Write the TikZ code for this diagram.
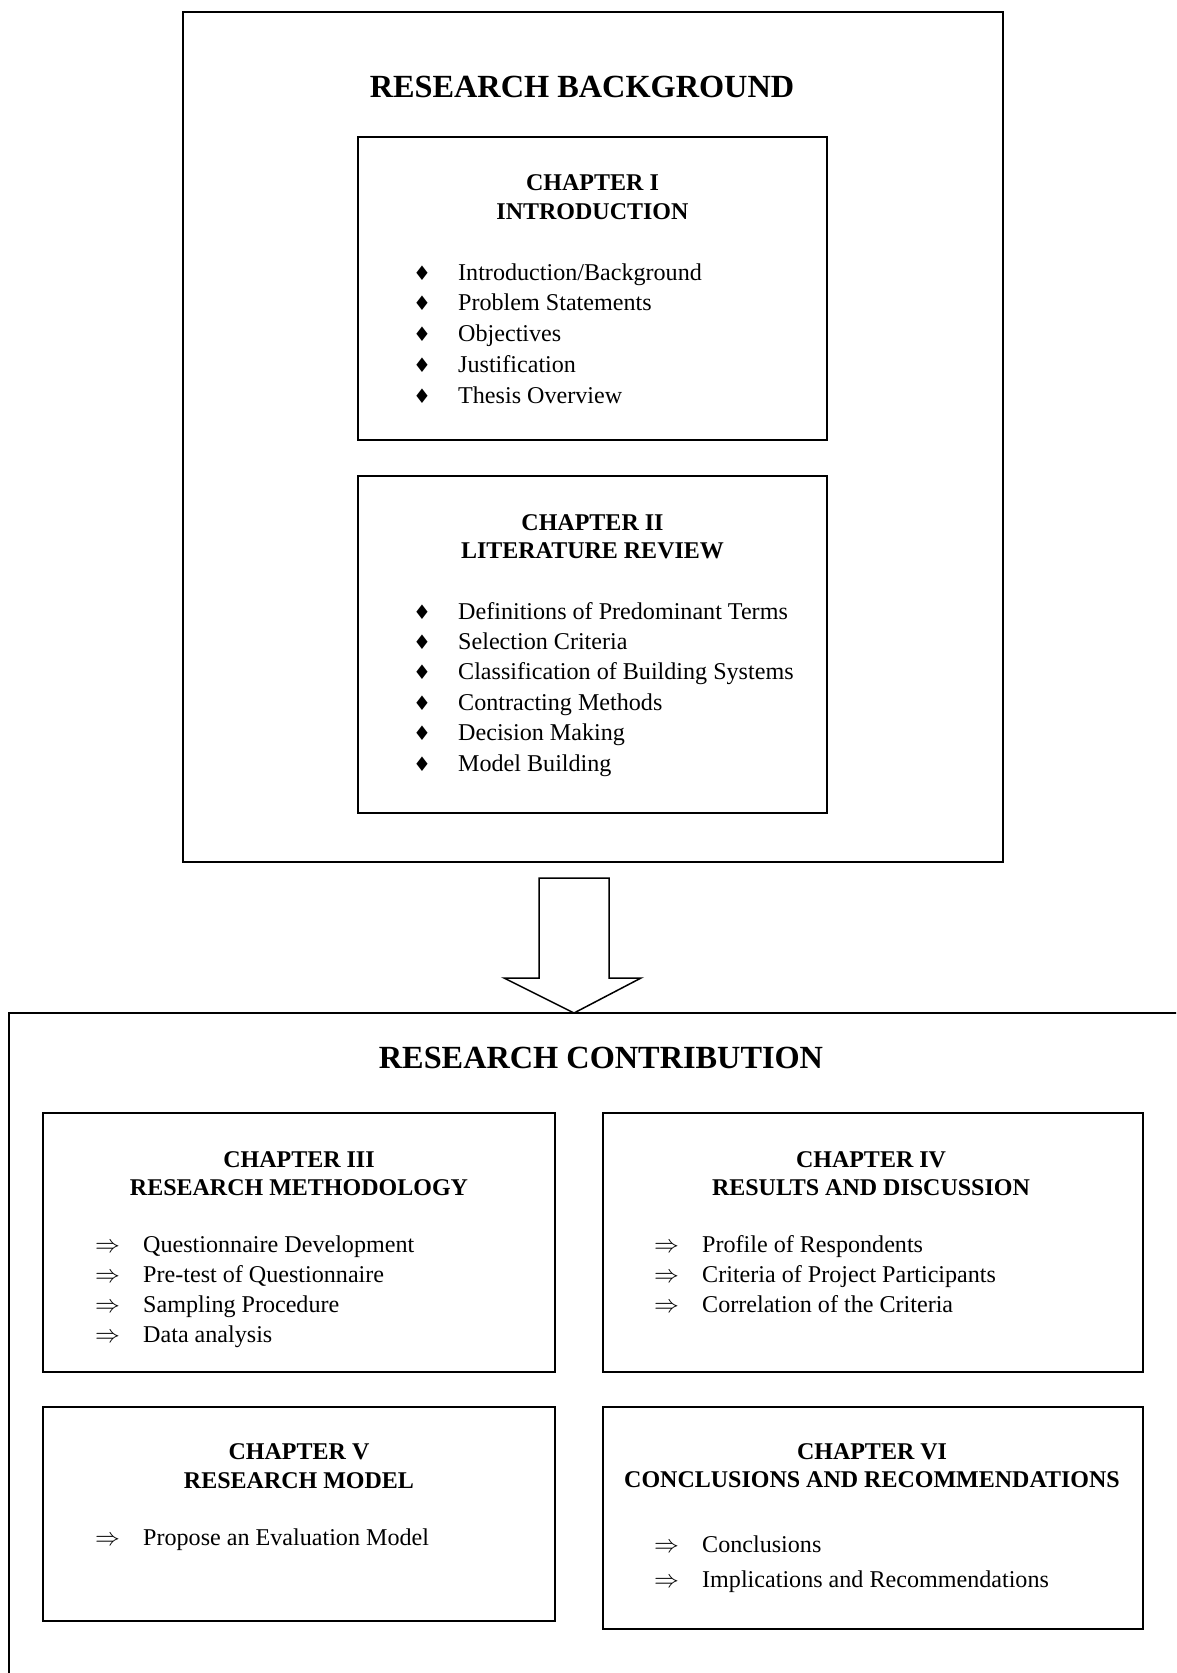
\documentclass[tikz,border=0pt]{standalone}
\usepackage{fontspec}
\setmainfont{Liberation Serif}
\newfontfamily\symfont{DejaVu Sans}

\tikzset{
  frame/.style={draw, line width=2pt, rectangle, inner sep=0pt, outer sep=0pt, anchor=north west},
  chapbox/.style={draw, line width=1.5pt, rectangle, inner sep=0pt, outer sep=0pt, anchor=north west},
  bigtitle/.style={font=\bfseries\fontsize{32.3}{38}\selectfont, inner sep=0pt, anchor=base},
  chaphead/.style={font=\bfseries\fontsize{24}{28}\selectfont, inner sep=0pt, anchor=base},
  item/.style={font=\fontsize{24.1}{29}\selectfont, inner sep=0pt, anchor=base west},
  blockarrow/.style={draw, line width=1.5pt, line join=miter}
}
\newcommand\dia{\makebox[46pt][l]{\hspace{1pt}{\symfont\fontsize{20}{20}\selectfont ♦}}}
\newcommand\imp{\makebox[48pt][l]{\fontsize{27}{27}\selectfont$\Rightarrow$}}
\newcommand\impbig{\makebox[48pt][l]{\fontsize{33}{33}\selectfont$\Rightarrow$}}

\begin{document}
\begin{tikzpicture}[x=1pt,y=-1pt]
\useasboundingbox (0,0) rectangle (1176,1673);
\clip (0,0) rectangle (1176,1673);

% outer frames
\node[frame, minimum width=820pt, minimum height=850pt] (bg) at (183,12) {};
\node[frame, minimum width=1200pt, minimum height=720pt] (rc) at (8.5,1013) {};

% titles
\node[bigtitle] (bgt) at (582,97) {RESEARCH BACKGROUND};
\node[bigtitle] (rct) at (601,1068) {RESEARCH CONTRIBUTION};

% block arrow from background to contribution
\draw[blockarrow] (539,878) -- (609,878) -- (609,978) -- (641,978) -- (574,1013) -- (504,978) -- (539,978) -- cycle;

% chapter boxes
\node[chapbox, minimum width=469pt, minimum height=303pt] (c1) at (358,137) {};
\node[chapbox, minimum width=469pt, minimum height=337pt] (c2) at (358,476) {};
\node[chapbox, minimum width=512pt, minimum height=259pt] (c3) at (43,1113) {};
\node[chapbox, minimum width=540pt, minimum height=259pt] (c4) at (603,1113) {};
\node[chapbox, minimum width=512pt, minimum height=214pt] (c5) at (43,1407) {};
\node[chapbox, minimum width=540pt, minimum height=222pt] (c6) at (603,1407) {};

% chapter headings
\node[chaphead] (c1h1) at (592.5,190) {CHAPTER I};
\node[chaphead] (c1h2) at (592.5,219) {INTRODUCTION};
\node[chaphead] (c2h1) at (592.5,530) {CHAPTER II};
\node[chaphead] (c2h2) at (592.5,558) {LITERATURE REVIEW};
\node[chaphead] (c3h1) at (299,1167) {CHAPTER III};
\node[chaphead] (c3h2) at (299,1195) {RESEARCH METHODOLOGY};
\node[chaphead] (c4h1) at (871,1167) {CHAPTER IV};
\node[chaphead] (c4h2) at (871,1195) {RESULTS AND DISCUSSION};
\node[chaphead] (c5h1) at (299,1459) {CHAPTER V};
\node[chaphead] (c5h2) at (299,1488) {RESEARCH MODEL};
\node[chaphead] (c6h1) at (872,1459) {CHAPTER VI};
\node[chaphead] (c6h2) at (872,1487) {CONCLUSIONS AND RECOMMENDATIONS};

% chapter I items
\foreach \t [count=\i] in {{Introduction/Background},{Problem Statements},{Objectives},{Justification},{Thesis Overview}}
  \node[item] (c1i\i) at (412,{280+30.75*(\i-1)}) {\dia\t};

% chapter II items
\foreach \t [count=\i] in {{Definitions of Predominant Terms},{Selection Criteria},{Classification of Building Systems},{Contracting Methods},{Decision Making},{Model Building}}
  \node[item] (c2i\i) at (412,{619+30.4*(\i-1)}) {\dia\t};

% chapter III items
\foreach \t [count=\i] in {{Questionnaire Development},{Pre-test of Questionnaire},{Sampling Procedure},{Data analysis}}
  \node[item] (c3i\i) at (95,{1252+30*(\i-1)}) {\imp\t};

% chapter IV items
\foreach \t [count=\i] in {{Profile of Respondents},{Criteria of Project Participants},{Correlation of the Criteria}}
  \node[item] (c4i\i) at (654,{1252+30*(\i-1)}) {\imp\t};

% chapter V items
\node[item] (c5i1) at (95,1545) {\imp Propose an Evaluation Model};

% chapter VI items
\node[item] (c6i1) at (654,1552) {\imp Conclusions};
\node[item] (c6i2) at (654,1587) {\impbig Implications and Recommendations};
\end{tikzpicture}
\end{document}
